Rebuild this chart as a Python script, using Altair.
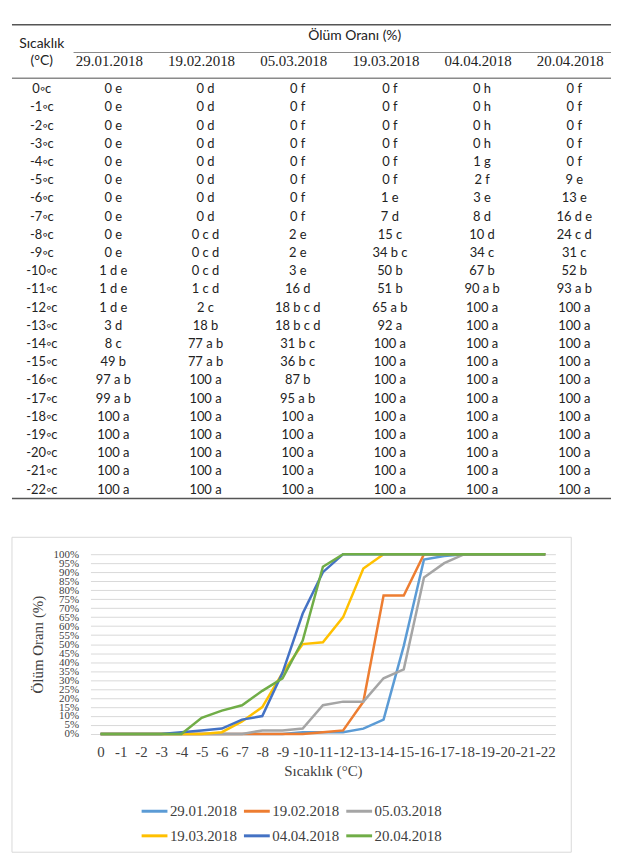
import altair as alt
import pandas as pd

# ---------------- data ----------------
temps = [0, -1, -2, -3, -4, -5, -6, -7, -8, -9, -10, -11, -12, -13, -14, -15, -16, -17, -18, -19, -20, -21, -22]
dates = ["29.01.2018", "19.02.2018", "05.03.2018", "19.03.2018", "04.04.2018", "20.04.2018"]

v_2901 = [0, 0, 0, 0, 0, 0, 0, 0, 0, 0, 1, 1, 1, 3, 8, 49, 97, 99, 100, 100, 100, 100, 100]
l_2901 = ["e", "e", "e", "e", "e", "e", "e", "e", "e", "e", "d e", "d e", "d e", "d", "c", "b", "a b", "a b",
          "a", "a", "a", "a", "a"]
v_1902 = [0, 0, 0, 0, 0, 0, 0, 0, 0, 0, 0, 1, 2, 18, 77, 77, 100, 100, 100, 100, 100, 100, 100]
l_1902 = ["d", "d", "d", "d", "d", "d", "d", "d", "c d", "c d", "c d", "c d", "c", "b", "a b", "a b",
          "a", "a", "a", "a", "a", "a", "a"]
v_0503 = [0, 0, 0, 0, 0, 0, 0, 0, 2, 2, 3, 16, 18, 18, 31, 36, 87, 95, 100, 100, 100, 100, 100]
l_0503 = ["f", "f", "f", "f", "f", "f", "f", "f", "e", "e", "e", "d", "b c d", "b c d", "b c", "b c", "b", "a b",
          "a", "a", "a", "a", "a"]
v_1903 = [0, 0, 0, 0, 0, 0, 1, 7, 15, 34, 50, 51, 65, 92, 100, 100, 100, 100, 100, 100, 100, 100, 100]
l_1903 = ["f", "f", "f", "f", "f", "f", "e", "d", "c", "b c", "b", "b", "a b", "a", "a", "a", "a", "a",
          "a", "a", "a", "a", "a"]
v_0404 = [0, 0, 0, 0, 1, 2, 3, 8, 10, 34, 67, 90, 100, 100, 100, 100, 100, 100, 100, 100, 100, 100, 100]
l_0404 = ["h", "h", "h", "h", "g", "f", "e", "d", "d", "c", "b", "a b", "a", "a", "a", "a", "a", "a",
          "a", "a", "a", "a", "a"]
v_2004 = [0, 0, 0, 0, 0, 9, 13, 16, 24, 31, 52, 93, 100, 100, 100, 100, 100, 100, 100, 100, 100, 100, 100]
l_2004 = ["f", "f", "f", "f", "f", "e", "e", "d e", "c d", "c", "b", "a b", "a", "a", "a", "a", "a", "a",
          "a", "a", "a", "a", "a"]

series_values = [v_2901, v_1902, v_0503, v_1903, v_0404, v_2004]
series_letters = [l_2901, l_1902, l_0503, l_1903, l_0404, l_2004]
colors = ["#5B9BD5", "#ED7D31", "#A5A5A5", "#FFC000", "#4472C4", "#70AD47"]

row_labels = [f"{t}\u25e6c" for t in temps]
x_labels = [str(t) for t in temps]

# ---------------- table ----------------
cells = []
for d, vals, lets in zip(dates, series_values, series_letters):
    for rl, v, l in zip(row_labels, vals, lets):
        cells.append({"date": d, "row": rl, "cell": f"{v} {l}"})
cells_df = pd.DataFrame(cells)
rows_df = pd.DataFrame({"row": row_labels})
hdr_df = pd.DataFrame({"date": dates})

TW, TH = 524, 492
sans = "Lato"
serif = "Liberation Serif"
ink = "#222222"

x_tab = alt.X("date:N", sort=dates, axis=None,
              scale=alt.Scale(domain=dates, range=[19, 483], padding=0))
y_tab = alt.Y("row:N", sort=row_labels, axis=None,
              scale=alt.Scale(domain=row_labels, range=[78, 481], padding=0))

one = alt.Data(values=[{"k": 0}])


def static_text(txt, x, y, font, size):
    return alt.Chart(one).mark_text(text=txt, font=font, fontSize=size, color=ink).encode(
        x=alt.value(x), y=alt.value(y))


def hline(y, x1, x2, color, w):
    return alt.Chart(one).mark_rule(color=color, strokeWidth=w).encode(
        x=alt.value(x1), x2=alt.value(x2), y=alt.value(y))


t_headers = alt.Chart(hdr_df).mark_text(font=serif, fontSize=15, color=ink).encode(
    x=x_tab, y=alt.value(50), text="date:N")
t_cells = alt.Chart(cells_df).mark_text(font=sans, fontSize=13, color=ink, dx=4).encode(
    x=x_tab, y=y_tab, text="cell:N")
t_rows = alt.Chart(rows_df).mark_text(font=sans, fontSize=13, color=ink).encode(
    x=alt.value(-49), y=y_tab, text="row:N")

table = alt.layer(
    hline(13, -79, TW, "#555555", 1.5),
    hline(41, -17, TW, "#8a8a8a", 1.2),
    hline(67, -79, TW, "#8a8a8a", 1.5),
    hline(490, -79, TW, "#555555", 1.5),
    static_text("Sıcaklık", -49, 32, sans, 14),
    static_text("(°C)", -49, 50, sans, 14),
    static_text("Ölüm Oranı (%)", 266, 24, sans, 14),
    t_headers, t_cells, t_rows,
).properties(width=TW, height=TH)

# ---------------- line chart ----------------
long_rows = []
for d, vals in zip(dates, series_values):
    for i, (t, v) in enumerate(zip(x_labels, vals)):
        long_rows.append({"t": t, "i": i, "date": d, "v": v})
long_df = pd.DataFrame(long_rows)

LW, LH = 468, 181
lab = "#404040"

frame = alt.Chart(one).mark_rect(fill="white", fillOpacity=0, stroke="#d9d9d9", strokeWidth=1).encode(
    x=alt.value(-79), x2=alt.value(484), y=alt.value(-17), y2=alt.value(300))

lines = alt.Chart(long_df).mark_line(strokeWidth=2.5).encode(
    x=alt.X("t:O", sort=x_labels, scale=alt.Scale(domain=x_labels),
            axis=alt.Axis(title="Sıcaklık (°C)", labelAngle=0, labelOverlap=False, domain=False,
                          ticks=False, tickSize=0, grid=False, labelPadding=11, titlePadding=4,
                          labelFont=serif, labelFontSize=15, labelColor=lab,
                          titleFont=serif, titleFontSize=15, titleFontWeight="normal", titleColor=lab)),
    y=alt.Y("v:Q", scale=alt.Scale(domain=[0, 100], nice=False),
            axis=alt.Axis(title="Ölüm Oranı (%)", values=list(range(0, 101, 5)),
                          labelExpr="datum.value + '%'", labelOverlap=False, domain=False,
                          ticks=False, tickSize=0, grid=True, gridColor="#d9d9d9", gridWidth=1,
                          labelPadding=12, labelFont=serif, labelFontSize=11, labelColor=lab,
                          labelFlush=False,
                          titlePadding=8, titleFont=serif, titleFontSize=15, titleFontWeight="normal",
                          titleColor=lab)),
    color=alt.Color("date:N", sort=dates, scale=alt.Scale(domain=dates, range=colors),
                    legend=alt.Legend(title=None, orient="none", legendX=50, legendY=244,
                                      direction="horizontal", columns=3, symbolType="stroke",
                                      symbolSize=676, symbolStrokeWidth=3, labelFont=serif,
                                      labelFontSize=15, labelColor=lab, labelOffset=1,
                                      columnPadding=0, rowPadding=2, padding=0)),
    order=alt.Order("i:Q"),
)

linechart = alt.layer(frame, lines).properties(width=LW, height=LH)

chart = alt.vconcat(table, linechart, spacing=35).resolve_legend(color="independent").properties(
    padding={"left": 2, "top": 0, "right": 0, "bottom": 0}
).configure_view(stroke="transparent")

chart.save("out.html", embed_options={"renderer": "svg", "actions": False})
